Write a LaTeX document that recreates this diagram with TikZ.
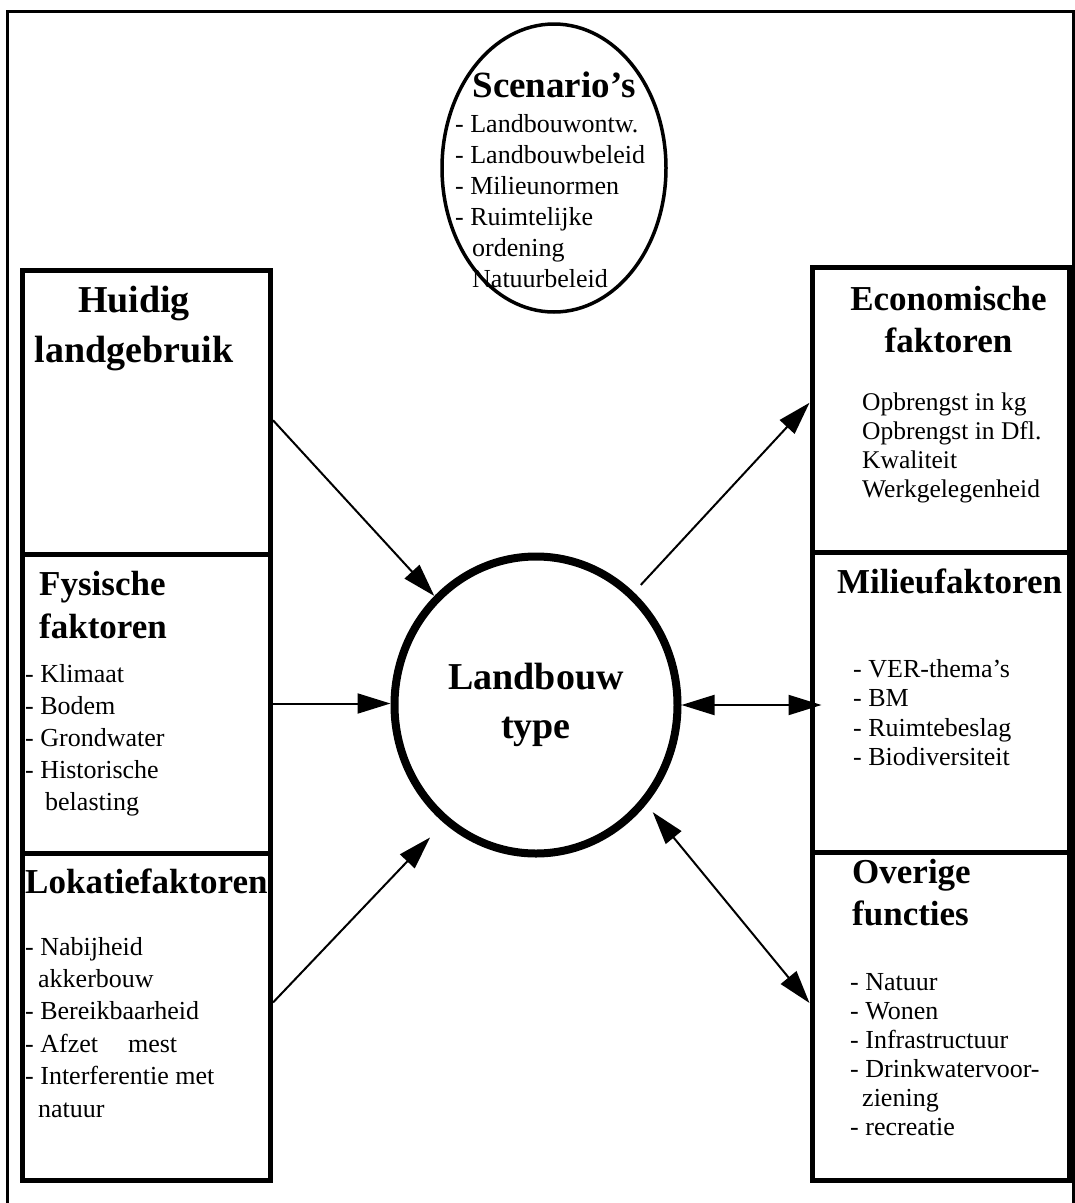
\documentclass[tikz,border=0pt]{standalone}
\usepackage{fontspec}
\setmainfont{Liberation Serif}
\usetikzlibrary{shapes.geometric,arrows.meta}

\begin{document}
\begin{tikzpicture}[x=1pt,y=-1pt,
  vak/.style = {draw, rectangle, line width=5pt, inner sep=0pt},
  kop/.style = {font=\fontsize{35}{43}\selectfont\bfseries, inner sep=0pt},
  lijst/.style = {font=\fontsize{26}{32}\selectfont, align=left, inner sep=0pt, anchor=base west},
  pijl/.style = {line width=2pt, -{Triangle[length=33pt,width=20pt]}},
  dubbel/.style = {line width=2pt, {Triangle[length=33pt,width=20pt]}-{Triangle[length=33pt,width=20pt]}}]
\useasboundingbox (0,0) rectangle (1075,1203);
\draw[line width=3pt] (7,11) rectangle (1073,1215);

% ellipsen
\node[ellipse, draw, line width=3.5pt, minimum width=224pt, minimum height=288pt] (scen) at (554,168) {};
\node[ellipse, draw, line width=8pt, minimum width=283pt, minimum height=297pt, align=center, font=\fontsize{38}{49}\selectfont\bfseries] (land) at (536,705) {Landbouw\\type};

% tekst: base = basislijn van de laatste regel
\node[kop, font=\fontsize{37}{45}\selectfont\bfseries, anchor=base] (scenkop) at (554,97) {Scenario's};
\node[lijst, font=\fontsize{26}{31}\selectfont] (scenlijst) at (455,287) {- Landbouwontw.\\- Landbouwbeleid\\- Milieunormen\\- Ruimtelijke\\\hspace*{17pt}ordening\\\hspace*{17pt}Natuurbeleid};

% vakken links
\node[vak, minimum width=248pt, minimum height=283.5pt] (huidig) at (146.5,412.25) {};
\node[vak, minimum width=248pt, minimum height=299pt] (fysisch) at (146.5,703.5) {};
\node[vak, minimum width=248pt, minimum height=327pt] (lokatie) at (146.5,1016.5) {};

% vakken rechts
\node[vak, minimum width=257pt, minimum height=284.5pt] (econ) at (940.5,409.75) {};
\node[vak, minimum width=257pt, minimum height=300pt] (milieu) at (940.5,702) {};
\node[vak, minimum width=257pt, minimum height=328pt] (overige) at (940.5,1016) {};

\node[kop, font=\fontsize{38}{50}\selectfont\bfseries, align=center, anchor=base] (huidigkop) at (134,362) {Huidig\\landgebruik};
\node[kop, align=left, anchor=base west] (fysischkop) at (39,638) {Fysische\\faktoren};
\node[lijst] (fysischlijst) at (25,810) {- Klimaat\\- Bodem\\- Grondwater\\- Historische\\\hspace*{20pt}belasting};
\node[kop, anchor=base west] (lokatiekop) at (25,893) {Lokatiefaktoren};
\node[lijst, font=\fontsize{26}{32.4}\selectfont] (lokatielijst) at (25,1117) {- Nabijheid\\\hspace*{13pt}akkerbouw\\- Bereikbaarheid\\- Afzet\hspace{30pt}mest\\- Interferentie met\\\hspace*{13pt}natuur};

\node[kop, align=center, anchor=base, font=\fontsize{35}{42}\selectfont\bfseries] (econkop) at (948.5,352) {Economische\\faktoren};
\node[lijst, font=\fontsize{25.5}{29}\selectfont] (econlijst) at (862,497) {Opbrengst in kg\\Opbrengst in Dfl.\\Kwaliteit\\Werkgelegenheid};
\node[kop, anchor=base west] (milieukop) at (837,593) {Milieufaktoren};
\node[lijst, font=\fontsize{26}{29.5}\selectfont] (milieulijst) at (853,765.5) {- VER-thema's\\- BM\\- Ruimtebeslag\\- Biodiversiteit};
\node[kop, align=left, anchor=base west, font=\fontsize{35}{42}\selectfont\bfseries] (overigekop) at (852,925) {Overige\\functies};
\node[lijst, font=\fontsize{26}{29}\selectfont] (overigelijst) at (850,1135) {- Natuur\\- Wonen\\- Infrastructuur\\- Drinkwatervoor-\\\hspace*{12pt}ziening\\- recreatie};

% pijlen
\draw[pijl] ([yshift=-8pt]huidig.east) -- (land.133);
\draw[pijl] (fysisch.east) -- (fysisch.east -| land.west);
\draw[pijl, shorten >=20pt] ([yshift=14pt]lokatie.east) -- (land.-128.6);
\draw[pijl, shorten <=10pt] (land.49.5) -- ([yshift=7pt]econ.west);
\draw[dubbel, shorten >=-12pt] (land.east) -- (land.east -| milieu.west);
\draw[dubbel, shorten <=10pt] (land.-42.7) -- ([yshift=13pt]overige.west);
\end{tikzpicture}
\end{document}
